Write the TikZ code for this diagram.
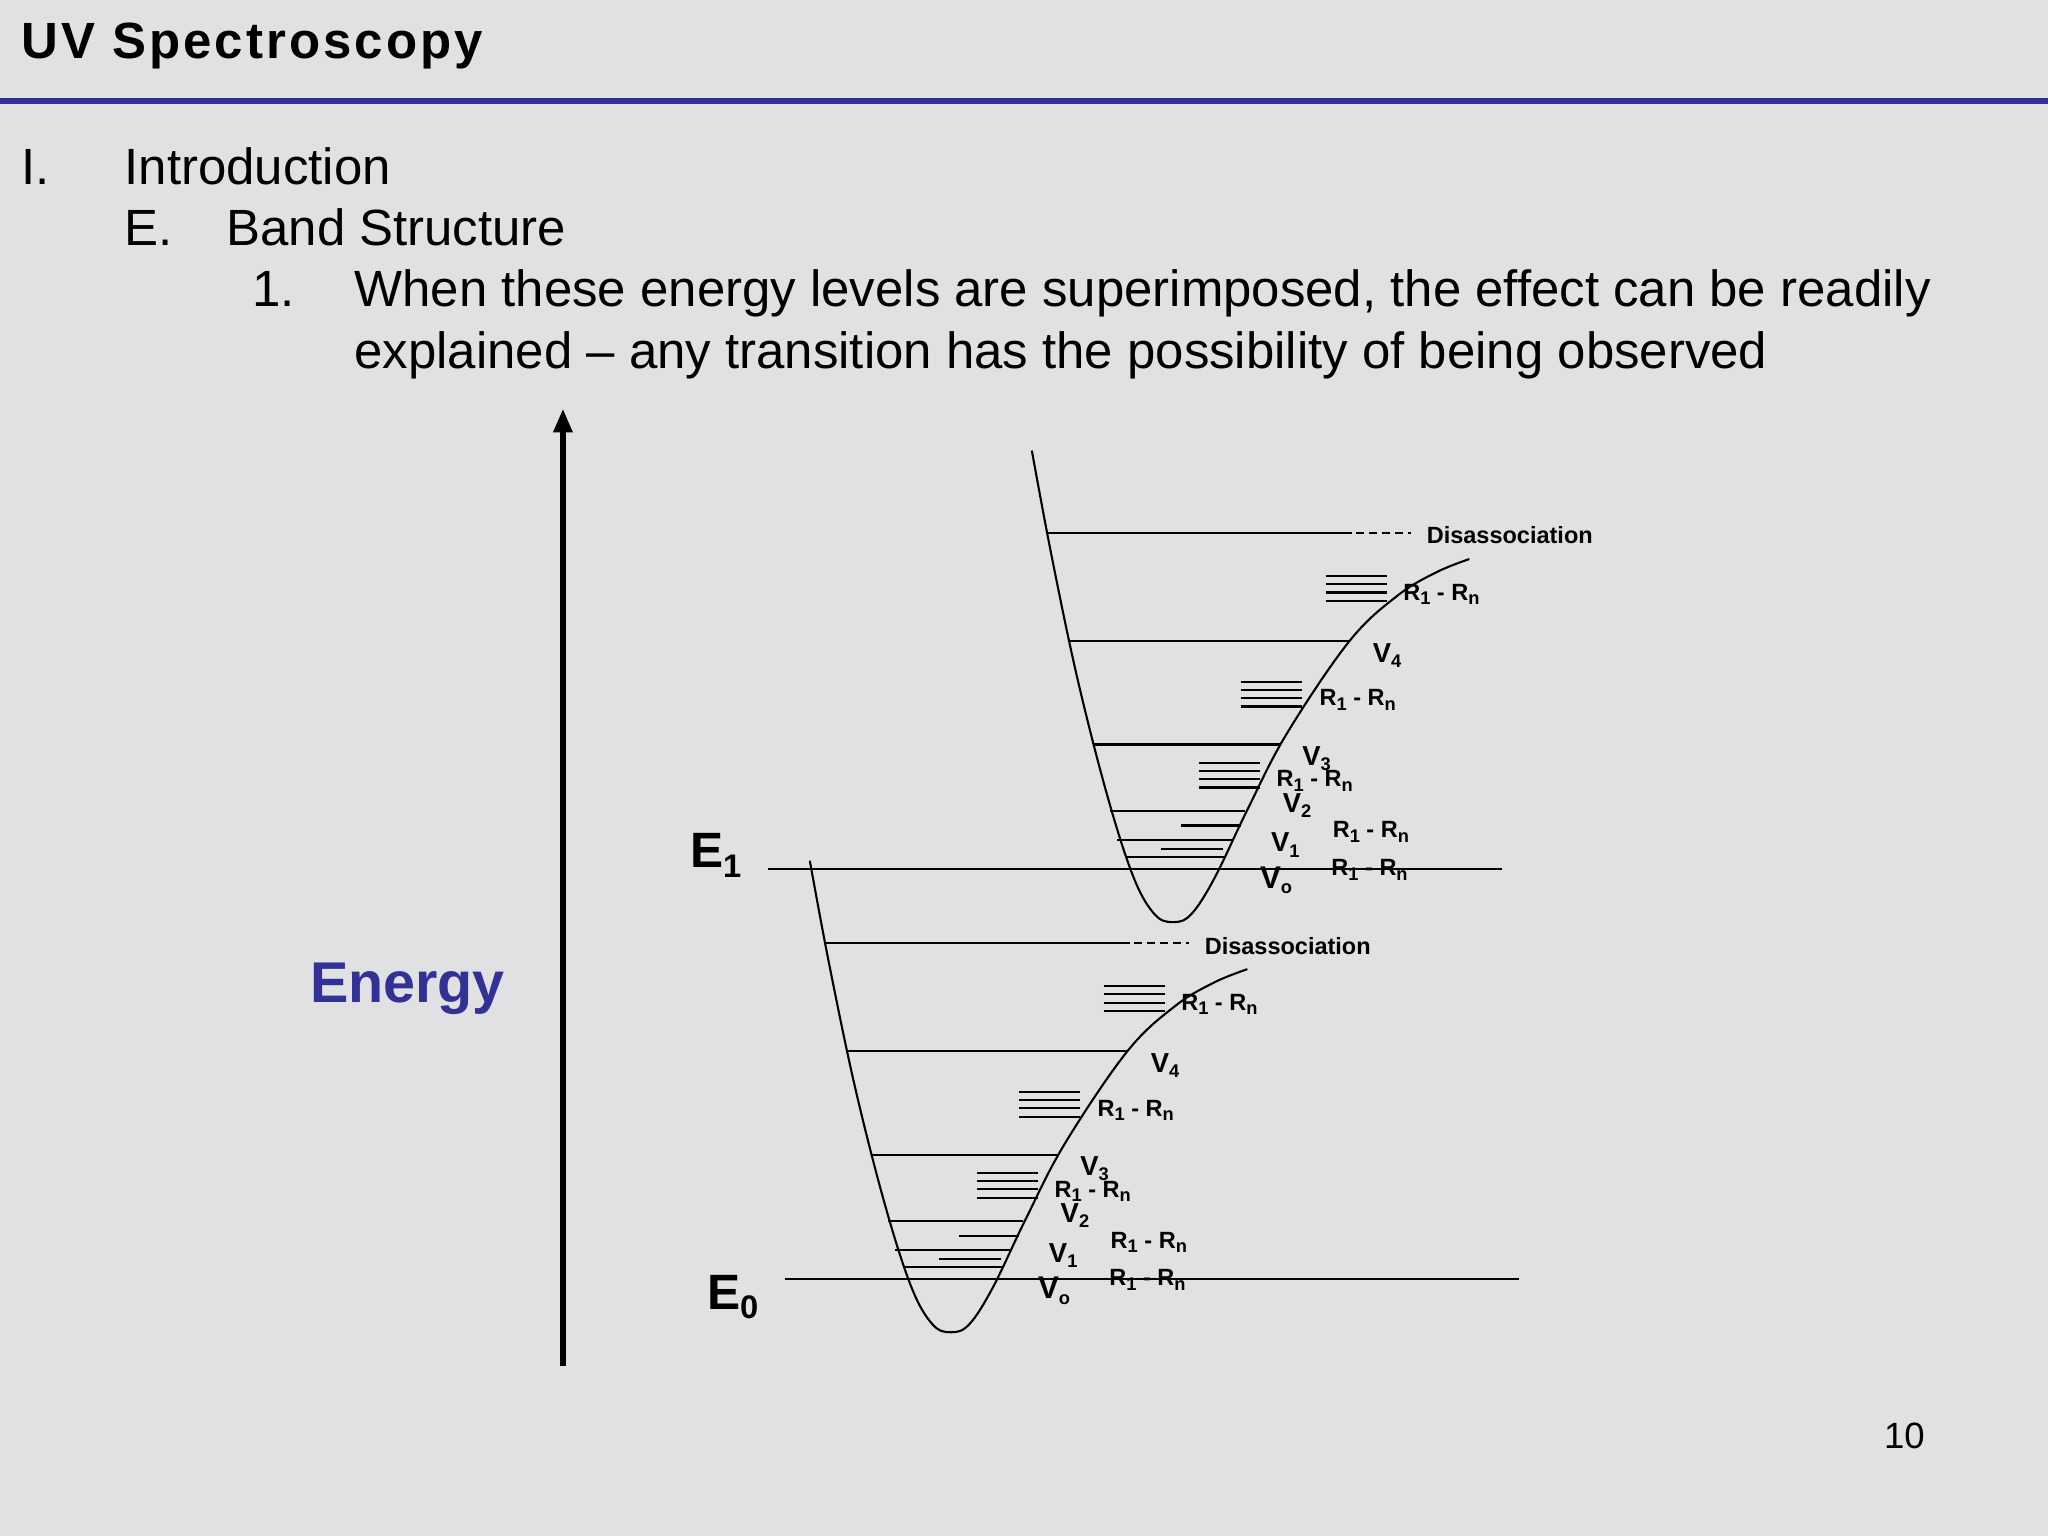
\documentclass[tikz,border=0pt]{standalone}
\usepackage{fontspec}
\setmainfont{Liberation Sans}
\usetikzlibrary{arrows.meta}
\definecolor{bg}{HTML}{E1E1E3}
\definecolor{bar}{HTML}{323296}
\newcommand{\sbs}[1]{\raisebox{-0.35ex}{\scriptsize #1}}
\newcommand{\bsb}[1]{\raisebox{-0.35ex}{\fontsize{12.5}{14}\selectfont #1}}
\begin{document}
\begin{tikzpicture}[x=0.5pt,y=-0.5pt,
  lvl/.style={line width=0.8pt},
  sm/.style={font=\fontsize{9}{10}\selectfont\bfseries,inner sep=0pt},
  vl/.style={font=\fontsize{10.5}{12}\selectfont\bfseries,inner sep=0pt},
  body/.style={font=\fontsize{19.5}{23}\selectfont,anchor=base west,inner sep=0pt}]
\fill[bg] (0,0) rectangle (1568,1176);
\useasboundingbox (0,0) rectangle (1568,1176);
\fill[bar] (0,75) rectangle (1568,80);
\node[anchor=west,inner sep=0pt,font=\fontsize{19.5}{22}\selectfont\bfseries\addfontfeature{LetterSpace=6}] (title) at (16,35) {UV Spectroscopy};
\node[body] (t1) at (16,141) {I.};
\node[body] (t2) at (95,141) {Introduction};
\node[body] (t3) at (95,188) {E.};
\node[body] (t4) at (173,188) {Band Structure};
\node[body] (t5) at (193,235) {1.};
\node[body] (t6) at (271,235) {When these energy levels are superimposed, the effect can be readily};
\node[body] (t7) at (271,282) {explained -- any transition has the possibility of being observed};
\node[inner sep=0pt,font=\fontsize{14}{16}\selectfont,anchor=east] (pg) at (1474,1099) {10};
\coordinate (ab) at (431,1046);
\coordinate (at) at (431,313);
\draw[line width=2pt,-{Triangle[length=9pt,width=7pt]}] (ab) -- (at);
\node[font=\fontsize{22}{26}\selectfont\bfseries,text=bar,inner sep=0pt] (en) at (312,757) {Energy};
\draw[lvl] (588,665) -- (1150,665);
\draw[lvl] (601,979) -- (1163,979);
\node[font=\fontsize{19}{22}\selectfont\bfseries,inner sep=0pt] (e1) at (548,655) {E\bsb{1}};
\node[font=\fontsize{19}{22}\selectfont\bfseries,inner sep=0pt] (e0) at (561,993) {E\bsb{0}};
\foreach \dx/\dy in {0/0,-170/314}{
\begin{scope}[shift={(\dx,\dy)}]
\draw[lvl] plot[smooth,tension=0.6] coordinates {(790,345) (805,425) (825,520) (848,610) (868,672) (884,700) (898,706) (912,700) (930,672) (955,620) (985,562) (1033,491) (1070,456) (1100,438) (1125,428)};
\draw[lvl] (802,408) -- (1035,408);
\draw[lvl,dash pattern=on 3pt off 2pt] (1038,408) -- (1080,408);
\node[sm,anchor=west] at (1092,410) {Disassociation};
\draw[lvl] (818,491) -- (1033,491);
\draw[lvl] (837,570) -- (980,570);
\draw[lvl] (850,621) -- (953,621);
\draw[lvl] (904,632) -- (950,632);
\draw[lvl] (855,643) -- (943,643);
\draw[lvl] (889,650) -- (936,650);
\draw[lvl] (862,656) -- (938,656);
\foreach \y/\xa/\xb in {441/1015/1062,522/950/997,584/918/965}{
  \foreach \k in {0,1,2,3}{\draw[lvl] (\xa,\y+\k*6.3) -- (\xb,\y+\k*6.3);}
}
\node[sm,anchor=west] at (1074,455) {R\sbs{1} - R\sbs{n}};
\node[vl] at (1062,502) {V\sbs{4}};
\node[sm,anchor=west] at (1010,536) {R\sbs{1} - R\sbs{n}};
\node[vl] at (1008,581) {V\sbs{3}};
\node[sm,anchor=west] at (977,598) {R\sbs{1} - R\sbs{n}};
\node[vl] at (993,617) {V\sbs{2}};
\node[vl] at (984,647) {V\sbs{1}};
\node[sm,anchor=west] at (1020,637) {R\sbs{1} - R\sbs{n}};
\node[vl,font=\fontsize{12}{14}\selectfont\bfseries] at (977,674) {V\sbs{o}};
\node[sm,anchor=west] at (1019,666) {R\sbs{1} - R\sbs{n}};
\end{scope}}
\end{tikzpicture}
\end{document}
